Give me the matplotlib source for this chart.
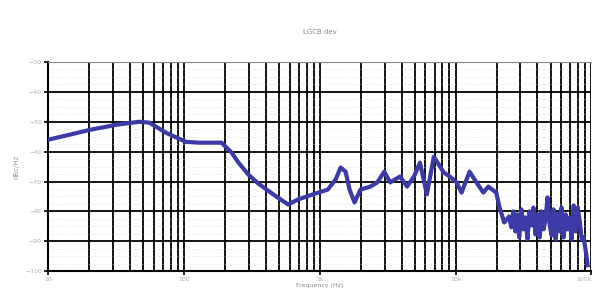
import matplotlib
matplotlib.use('Agg')
import matplotlib.pyplot as plt
from matplotlib.ticker import LogLocator, MultipleLocator, NullFormatter

# frequency (Hz) and level (dBc/Hz)
freq = [10, 14.5, 20.3, 31.9, 46.9, 55.5, 73.9, 103, 129, 189, 224, 252, 298,
        353, 454, 584, 691, 889, 1144, 1309, 1423, 1548, 1656, 1801, 1992,
        2356, 2651, 2983, 3298, 3901, 4388, 4936, 5460, 6142, 6910, 7515,
        8175, 9041, 10170, 11060, 12660, 14230, 16010, 17410, 19920, 20950,
        22790, 24790,
        25700, 26600, 27500, 28400, 29400, 30500, 31500, 32600, 33800, 35000,
        36200, 37400, 38700, 40100, 41500, 42900, 44400, 45900, 47500, 49200,
        50900, 52600, 54500, 56400, 58300, 60300, 62400, 64600, 66800, 69100,
        71500, 74000, 76600, 79200, 82000, 84800, 87700, 90800, 93900]
level = [-56.0, -54.3, -52.7, -51.0, -50.0, -50.3, -53.7, -56.7, -57.0, -57.0,
         -60.3, -63.7, -67.7, -70.7, -74.3, -77.7, -76.0, -74.3, -72.7, -69.3,
         -65.3, -66.7, -72.7, -77.0, -72.7, -71.7, -70.3, -66.7, -70.3, -68.3,
         -71.7, -68.3, -63.7, -74.3, -61.7, -64.3, -67.0, -68.3, -70.3, -73.7,
         -66.7, -70.3, -73.7, -71.7, -73.7, -78.3, -83.7, -81.7,
         -85.3, -80.0, -86.7, -81.0, -88.7, -79.3, -86.0, -82.0, -89.3, -80.0,
         -84.7, -78.7, -87.7, -81.0, -88.7, -80.0, -86.0, -82.7, -75.3, -84.3,
         -88.0, -79.3, -89.3, -80.7, -86.7, -78.7, -88.7, -81.0, -86.0, -82.0,
         -89.3, -78.0, -86.7, -78.7, -83.3, -89.3, -88.7, -93.3, -98.0]

xticks = [10, 100, 1000, 10000, 100000]
xtick_labels = ['10', '100', '1k', '10k', '100k']

fig = plt.figure(figsize=(5.95, 2.98), dpi=100)
ax = fig.add_axes([0.081, 0.09, 0.913, 0.702])

ax.plot(freq, level, color='#3b3aa6', lw=3.0, solid_joinstyle='round', zorder=3)

ax.set_xscale('log')
ax.set_xlim(10, 1e5)
ax.set_ylim(-100, -30)
ax.set_xticks(xticks, labels=xtick_labels)
ax.xaxis.set_minor_locator(LogLocator(base=10, subs=range(2, 10)))
ax.xaxis.set_minor_formatter(NullFormatter())
ax.yaxis.set_major_locator(MultipleLocator(10))
ax.yaxis.set_minor_locator(MultipleLocator(2.5))

ax.grid(which='major', axis='both', color='black', lw=1.3)
ax.grid(which='minor', axis='x', color='black', lw=1.3)
ax.grid(which='minor', axis='y', color='#dddddd', lw=0.5, ls=':')

for s in ['left', 'bottom']:
    ax.spines[s].set_linewidth(1.5)
ax.spines['top'].set_color('#888888')
ax.spines['top'].set_linewidth(0.8)
ax.spines['right'].set_visible(False)

ax.tick_params(which='major', labelsize=4.5, labelcolor='#b0b0b0', length=3,
               width=1.2, color='black', pad=1.5)
ax.tick_params(which='minor', length=0)
ax.get_xticklabels()[-1].set_horizontalalignment('right')

ax.set_title('LGCB dev', fontsize=5, color='#888888', pad=20)
ax.set_xlabel('Frequency (Hz)', fontsize=4.5, color='#888888', labelpad=0.5)
ax.set_ylabel('dBc/Hz', fontsize=5, color='#999999', labelpad=4)

fig.savefig('out.png', dpi=100)
